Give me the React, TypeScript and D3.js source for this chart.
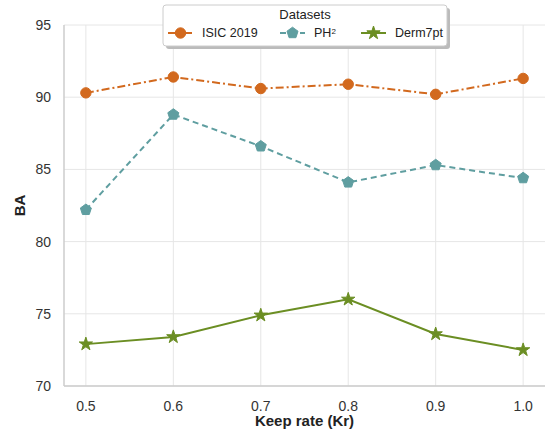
import React, { useEffect, useRef } from 'react'
import * as d3 from 'd3'

const keepRates = [0.5, 0.6, 0.7, 0.8, 0.9, 1.0]
const isicValues = [90.3, 91.4, 90.6, 90.9, 90.2, 91.3]
const ph2Values = [82.2, 88.8, 86.6, 84.1, 85.3, 84.4]
const dermValues = [72.9, 73.4, 74.9, 76.0, 73.6, 72.5]
const yTicks = [70, 75, 80, 85, 90, 95]
const seriesNames = ['ISIC 2019', 'PH2', 'Derm7pt']

// simple pentagon, point up
const symbolPentagon = {
  draw(context: any, size: number) {
    const r = Math.sqrt(size / 2.378)
    for (let i = 0; i < 5; i++) {
      const a = -Math.PI / 2 + (i * 2 * Math.PI) / 5
      const px = r * Math.cos(a)
      const py = r * Math.sin(a)
      if (i === 0) context.moveTo(px, py)
      else context.lineTo(px, py)
    }
    context.closePath()
  },
}

const App = () => {
  const svgRef = useRef<SVGSVGElement>(null)

  useEffect(() => {
    const width = 546
    const height = 433
    const margin = { top: 25, right: 1, bottom: 47, left: 64 }
    const plotW = width - margin.left - margin.right
    const plotH = height - margin.top - margin.bottom
    const font = 'Liberation Sans, Arial, sans-serif'

    const root = d3.select(svgRef.current)
    root.selectAll('*').remove()
    root.attr('width', width).attr('height', height)

    const svg = root.append('g').attr('transform', `translate(${margin.left},${margin.top})`)

    const x = d3.scaleLinear().domain([0.475, 1.025]).range([0, plotW])
    const y = d3.scaleLinear().domain([70, 95]).range([plotH, 0])

    const series = [
      { name: seriesNames[0], values: isicValues, color: '#D2691E', dash: '8,3,2,3', marker: d3.symbolCircle, size: 85 },
      { name: seriesNames[1], values: ph2Values, color: '#5F9EA0', dash: '6,4', marker: symbolPentagon, size: 80 },
      { name: seriesNames[2], values: dermValues, color: '#6B8E23', dash: null, marker: d3.symbolStar, size: 55 },
    ]

    // grid
    const grid = svg.append('g')
    grid.selectAll('line.v').data(keepRates).enter().append('line')
      .attr('x1', (d) => x(d)).attr('x2', (d) => x(d))
      .attr('y1', 0).attr('y2', plotH)
      .attr('stroke', '#e6e6e6').attr('stroke-width', 1)
    grid.selectAll('line.h').data(yTicks).enter().append('line')
      .attr('x1', 0).attr('x2', plotW)
      .attr('y1', (d) => y(d)).attr('y2', (d) => y(d))
      .attr('stroke', '#e6e6e6').attr('stroke-width', 1)

    // spines
    svg.append('line').attr('x1', 0).attr('x2', 0).attr('y1', 0).attr('y2', plotH)
      .attr('stroke', '#cccccc').attr('stroke-width', 1.5)
    svg.append('line').attr('x1', 0).attr('x2', plotW).attr('y1', plotH).attr('y2', plotH)
      .attr('stroke', '#cccccc').attr('stroke-width', 1.5)

    // tick labels
    svg.selectAll('text.yt').data(yTicks).enter().append('text')
      .attr('x', -13).attr('y', (d) => y(d)).attr('dy', '0.35em')
      .attr('text-anchor', 'end')
      .style('font-family', font).style('font-size', '14px').style('fill', '#333')
      .text((d) => d)
    svg.selectAll('text.xt').data(keepRates).enter().append('text')
      .attr('x', (d) => x(d)).attr('y', plotH + 20).attr('dy', '0.35em')
      .attr('text-anchor', 'middle')
      .style('font-family', font).style('font-size', '14px').style('fill', '#333')
      .text((d) => d.toFixed(1))

    svg.append('text')
      .attr('x', (x(0.5) + x(1.0)) / 2).attr('y', plotH + 40)
      .attr('text-anchor', 'middle')
      .style('font-family', font).style('font-size', '15px').style('font-weight', 'bold').style('fill', '#222')
      .text('Keep rate (Kr)')
    svg.append('text')
      .attr('transform', 'rotate(-90)')
      .attr('x', -plotH / 2).attr('y', -39)
      .attr('text-anchor', 'middle')
      .style('font-family', font).style('font-size', '15px').style('font-weight', 'bold').style('fill', '#222')
      .text('BA')

    // lines
    const line = d3.line<number>().x((_, i) => x(keepRates[i])).y((d) => y(d))
    series.forEach((s) => {
      svg.append('path').datum(s.values)
        .attr('d', line)
        .attr('fill', 'none')
        .attr('stroke', s.color)
        .attr('stroke-width', 2)
        .attr('stroke-dasharray', s.dash)
      svg.selectAll(null).data(s.values).enter().append('path')
        .attr('d', d3.symbol().type(s.marker as any).size(s.size)())
        .attr('transform', (d, i) => `translate(${x(keepRates[i])},${y(d)})`)
        .attr('fill', s.color)
        .attr('stroke', s.color)
        .attr('stroke-width', 1)
    })

    // legend
    const lg = root.append('g').attr('transform', 'translate(163,5)')
    const lw = 284
    const lh = 41
    lg.append('rect').attr('x', 3).attr('y', 3).attr('width', lw).attr('height', lh)
      .attr('rx', 3).attr('fill', '#bbbbbb')
    lg.append('rect').attr('x', 0).attr('y', 0).attr('width', lw).attr('height', lh)
      .attr('rx', 3).attr('fill', '#fff').attr('stroke', '#cccccc').attr('stroke-width', 1)
    lg.append('text').attr('x', lw / 2).attr('y', 14)
      .attr('text-anchor', 'middle')
      .style('font-family', font).style('font-size', '13px').style('fill', '#222')
      .text('Datasets')
    const entryX = [5, 117, 198]
    series.forEach((s, i) => {
      const g = lg.append('g').attr('transform', `translate(${entryX[i]},28)`)
      g.append('line').attr('x1', 0).attr('x2', 25).attr('y1', 0).attr('y2', 0)
        .attr('stroke', s.color).attr('stroke-width', 2)
        .attr('stroke-dasharray', s.dash)
      g.append('path').attr('d', d3.symbol().type(s.marker as any).size(s.size)())
        .attr('transform', 'translate(12.5,0)')
        .attr('fill', s.color).attr('stroke', s.color)
      const t = g.append('text').attr('x', 34).attr('y', 0).attr('dy', '0.35em')
        .style('font-family', font).style('font-size', '12.5px').style('fill', '#222')
      if (s.name === 'PH2') {
        t.append('tspan').text('PH')
        t.append('tspan').attr('dy', '-0.45em').style('font-size', '8px').text('2')
      } else {
        t.text(s.name)
      }
    })
  }, [])

  return <svg ref={svgRef} style={{ position: 'absolute', left: 0, top: 0, display: 'block' }} />
}

export default App
